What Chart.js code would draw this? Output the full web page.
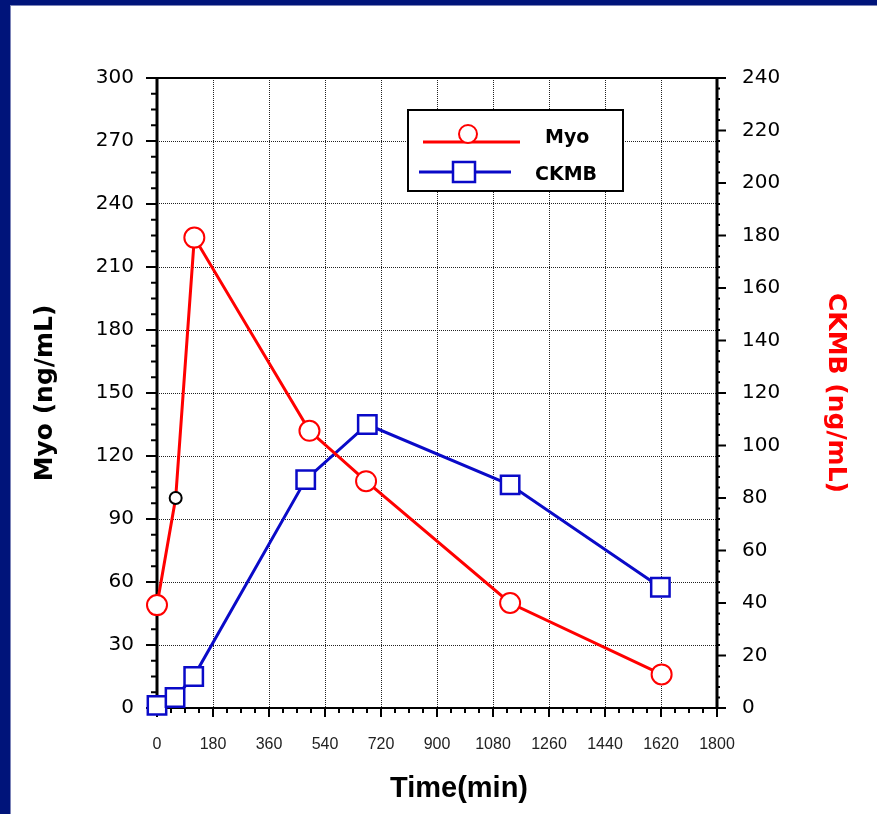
<!DOCTYPE html>
<html>
<head>
<meta charset="utf-8">
<script src="https://cdn.jsdelivr.net/npm/chart.js@4.4.0/dist/chart.umd.min.js"></script>
<style>
  html, body { margin: 0; padding: 0; background: #00147a; width: 877px; height: 814px; overflow: hidden; }
  #panel { position: absolute; left: 10px; top: 5px; width: 866px; height: 808px; background: #fff;
           border-left: 1px solid #7c84b8; border-top: 1px solid #7c84b8; }
  canvas { display: block; }
</style>
</head>
<body>
<div id="panel"><canvas id="myChart" width="866" height="808"></canvas></div>
<script>
// data
const myoTime = [0, 60, 120, 490, 672, 1135, 1622];
const myoValues = [49, 100, 224, 132, 108, 50, 16];
const ckmbTime = [0, 58, 118, 478, 676, 1135, 1618];
const ckmbValues = [1, 4, 12, 87, 108, 85, 46];

const timeTicks = [0, 180, 360, 540, 720, 900, 1080, 1260, 1440, 1620, 1800];
const myoTicks = [0, 30, 60, 90, 120, 150, 180, 210, 240, 270, 300];
const ckmbTicks = [0, 20, 40, 60, 80, 100, 120, 140, 160, 180, 200, 220, 240];

// frame round the plot + major/minor tick marks
const frameAndTicks = {
  id: 'frameAndTicks',
  beforeDatasetsDraw(chart) {
    const {ctx, chartArea: a, scales} = chart;
    ctx.save();
    ctx.strokeStyle = '#000';
    ctx.lineWidth = 2;
    ctx.beginPath();
    // left axis, outward
    for (let i = 0; i < myoTicks.length; i++) {
      let y = scales.y.getPixelForValue(myoTicks[i]);
      ctx.moveTo(a.left, y); ctx.lineTo(a.left - 11, y);
      if (i < myoTicks.length - 1) {
        let step = (myoTicks[i + 1] - myoTicks[i]) / 4;
        for (let k = 1; k < 4; k++) {
          let ym = scales.y.getPixelForValue(myoTicks[i] + step * k);
          ctx.moveTo(a.left, ym); ctx.lineTo(a.left - 6, ym);
        }
      }
    }
    // right axis, outward
    for (let i = 0; i < ckmbTicks.length; i++) {
      let y = scales.y1.getPixelForValue(ckmbTicks[i]);
      ctx.moveTo(a.right, y); ctx.lineTo(a.right + 9, y);
      if (i < ckmbTicks.length - 1) {
        let step = (ckmbTicks[i + 1] - ckmbTicks[i]) / 5;
        for (let k = 1; k < 5; k++) {
          let ym = scales.y1.getPixelForValue(ckmbTicks[i] + step * k);
          ctx.moveTo(a.right, ym); ctx.lineTo(a.right + 3, ym);
        }
      }
    }
    // bottom axis, downward
    for (let i = 0; i < timeTicks.length; i++) {
      let x = scales.x.getPixelForValue(timeTicks[i]);
      ctx.moveTo(x, a.bottom); ctx.lineTo(x, a.bottom + 9);
      if (i < timeTicks.length - 1) {
        let step = (timeTicks[i + 1] - timeTicks[i]) / 4;
        for (let k = 1; k < 4; k++) {
          let xm = scales.x.getPixelForValue(timeTicks[i] + step * k);
          ctx.moveTo(xm, a.bottom); ctx.lineTo(xm, a.bottom + 5);
        }
      }
    }
    ctx.stroke();
    // frame
    ctx.lineWidth = 2;
    ctx.beginPath();
    ctx.moveTo(a.left, a.top); ctx.lineTo(a.right, a.top);
    ctx.moveTo(a.left, a.bottom); ctx.lineTo(a.right, a.bottom);
    ctx.stroke();
    ctx.lineWidth = 3;
    ctx.beginPath();
    ctx.moveTo(a.left, a.top - 1); ctx.lineTo(a.left, a.bottom + 1);
    ctx.moveTo(a.right, a.top - 1); ctx.lineTo(a.right, a.bottom + 1);
    ctx.stroke();
    ctx.restore();
  },
  afterDraw(chart) {
    const {ctx, chartArea: a} = chart;
    ctx.save();
    // x axis title
    ctx.fillStyle = '#000';
    ctx.font = 'bold 29px "Liberation Sans", Arial, sans-serif';
    ctx.textAlign = 'center';
    ctx.textBaseline = 'middle';
    ctx.fillText('Time(min)', 448, 783);

    // legend box
    const bx = a.left + 251, by = a.top + 32;
    ctx.fillStyle = '#fff';
    ctx.fillRect(bx, by, 215, 81);
    ctx.strokeStyle = '#000';
    ctx.lineWidth = 2;
    ctx.strokeRect(bx, by, 215, 81);

    // Myo entry
    ctx.strokeStyle = '#ff0000';
    ctx.lineWidth = 3;
    ctx.beginPath();
    ctx.moveTo(bx + 15, by + 32); ctx.lineTo(bx + 112, by + 32);
    ctx.stroke();
    ctx.lineWidth = 2;
    ctx.beginPath();
    ctx.arc(bx + 60, by + 24, 9, 0, Math.PI * 2);
    ctx.fillStyle = '#fff';
    ctx.fill();
    ctx.stroke();

    // CKMB entry
    ctx.strokeStyle = '#0a0ac8';
    ctx.lineWidth = 3;
    ctx.beginPath();
    ctx.moveTo(bx + 11, by + 62); ctx.lineTo(bx + 103, by + 62);
    ctx.stroke();
    ctx.lineWidth = 2.5;
    ctx.fillRect(bx + 45, by + 52, 22, 20);
    ctx.strokeRect(bx + 45, by + 52, 22, 20);

    ctx.fillStyle = '#000';
    ctx.font = 'bold 19px "DejaVu Sans", sans-serif';
    ctx.textAlign = 'left';
    ctx.fillText('Myo', bx + 137, by + 28);
    ctx.fillText('CKMB', bx + 127, by + 65);
    ctx.restore();
  }
};

var ctx = document.getElementById('myChart').getContext('2d');

var myChart = new Chart(ctx, {
  type: 'line',
  data: {
    datasets: [{
      label: 'Myo',
      data: myoTime.map((t, i) => ({x: t, y: myoValues[i]})),
      yAxisID: 'y',
      borderColor: '#ff0000',
      borderWidth: 3,
      tension: 0,
      pointStyle: 'circle',
      pointRadius: myoTime.map((t, i) => i === 1 ? 6 : 10),
      pointBorderColor: myoTime.map((t, i) => i === 1 ? '#000' : '#ff0000'),
      pointBackgroundColor: '#fff',
      pointBorderWidth: 2,
      clip: false
    },
    {
      label: 'CKMB',
      data: ckmbTime.map((t, i) => ({x: t, y: ckmbValues[i]})),
      yAxisID: 'y1',
      borderColor: '#0a0ac8',
      borderWidth: 3,
      tension: 0,
      pointStyle: 'rect',
      pointRadius: 13,
      pointBorderColor: '#0a0ac8',
      pointBackgroundColor: '#fff',
      pointBorderWidth: 2.5,
      clip: false
    }]
  },
  options: {
    responsive: false,
    animation: false,
    devicePixelRatio: 1,
    layout: { padding: { top: 72, left: 0, right: 0, bottom: 0 } },
    plugins: {
      legend: { display: false },
      tooltip: { enabled: false }
    },
    scales: {
      x: {
        type: 'linear',
        position: 'bottom',
        min: 0,
        max: 1800,
        afterBuildTicks: s => { s.ticks = timeTicks.map(v => ({value: v})); },
        afterFit: s => { s.height = 106; },
        grid: { color: '#222', lineWidth: 1, drawTicks: false },
        border: { display: false, dash: [1, 1] },
        ticks: {
          padding: 27,
          color: '#222',
          maxRotation: 0,
          autoSkip: false,
          callback: v => String(v),
          font: { family: '"Liberation Sans", Arial, sans-serif', size: 16 }
        }
      },
      y: {
        position: 'left',
        min: 0,
        max: 300,
        afterBuildTicks: s => { s.ticks = myoTicks.map(v => ({value: v})); },
        afterFit: s => { s.width = 146; },
        grid: { color: '#222', lineWidth: 1, drawTicks: false },
        border: { display: false, dash: [1, 1] },
        ticks: {
          padding: 23,
          color: '#000',
          autoSkip: false,
          callback: v => String(v),
          font: { family: '"DejaVu Sans", sans-serif', size: 20 }
        },
        title: {
          display: true,
          text: 'Myo (ng/mL)',
          color: '#000',
          padding: { top: 19, bottom: 0 },
          font: { family: '"DejaVu Sans", sans-serif', size: 25, weight: 'bold' }
        }
      },
      y1: {
        position: 'right',
        min: 0,
        max: 240,
        afterBuildTicks: s => { s.ticks = ckmbTicks.map(v => ({value: v})); },
        afterFit: s => { s.width = 160; },
        grid: { display: false, drawTicks: false },
        border: { display: false },
        ticks: {
          padding: 25,
          color: '#000',
          autoSkip: false,
          callback: v => String(v),
          font: { family: '"DejaVu Sans", sans-serif', size: 20 }
        },
        title: {
          display: true,
          text: 'CKMB (ng/mL)',
          color: '#ff0000',
          padding: { top: 27, bottom: 0 },
          font: { family: '"DejaVu Sans", sans-serif', size: 25, weight: 'bold' }
        }
      }
    }
  },
  plugins: [frameAndTicks]
});
</script>
</body>
</html>
